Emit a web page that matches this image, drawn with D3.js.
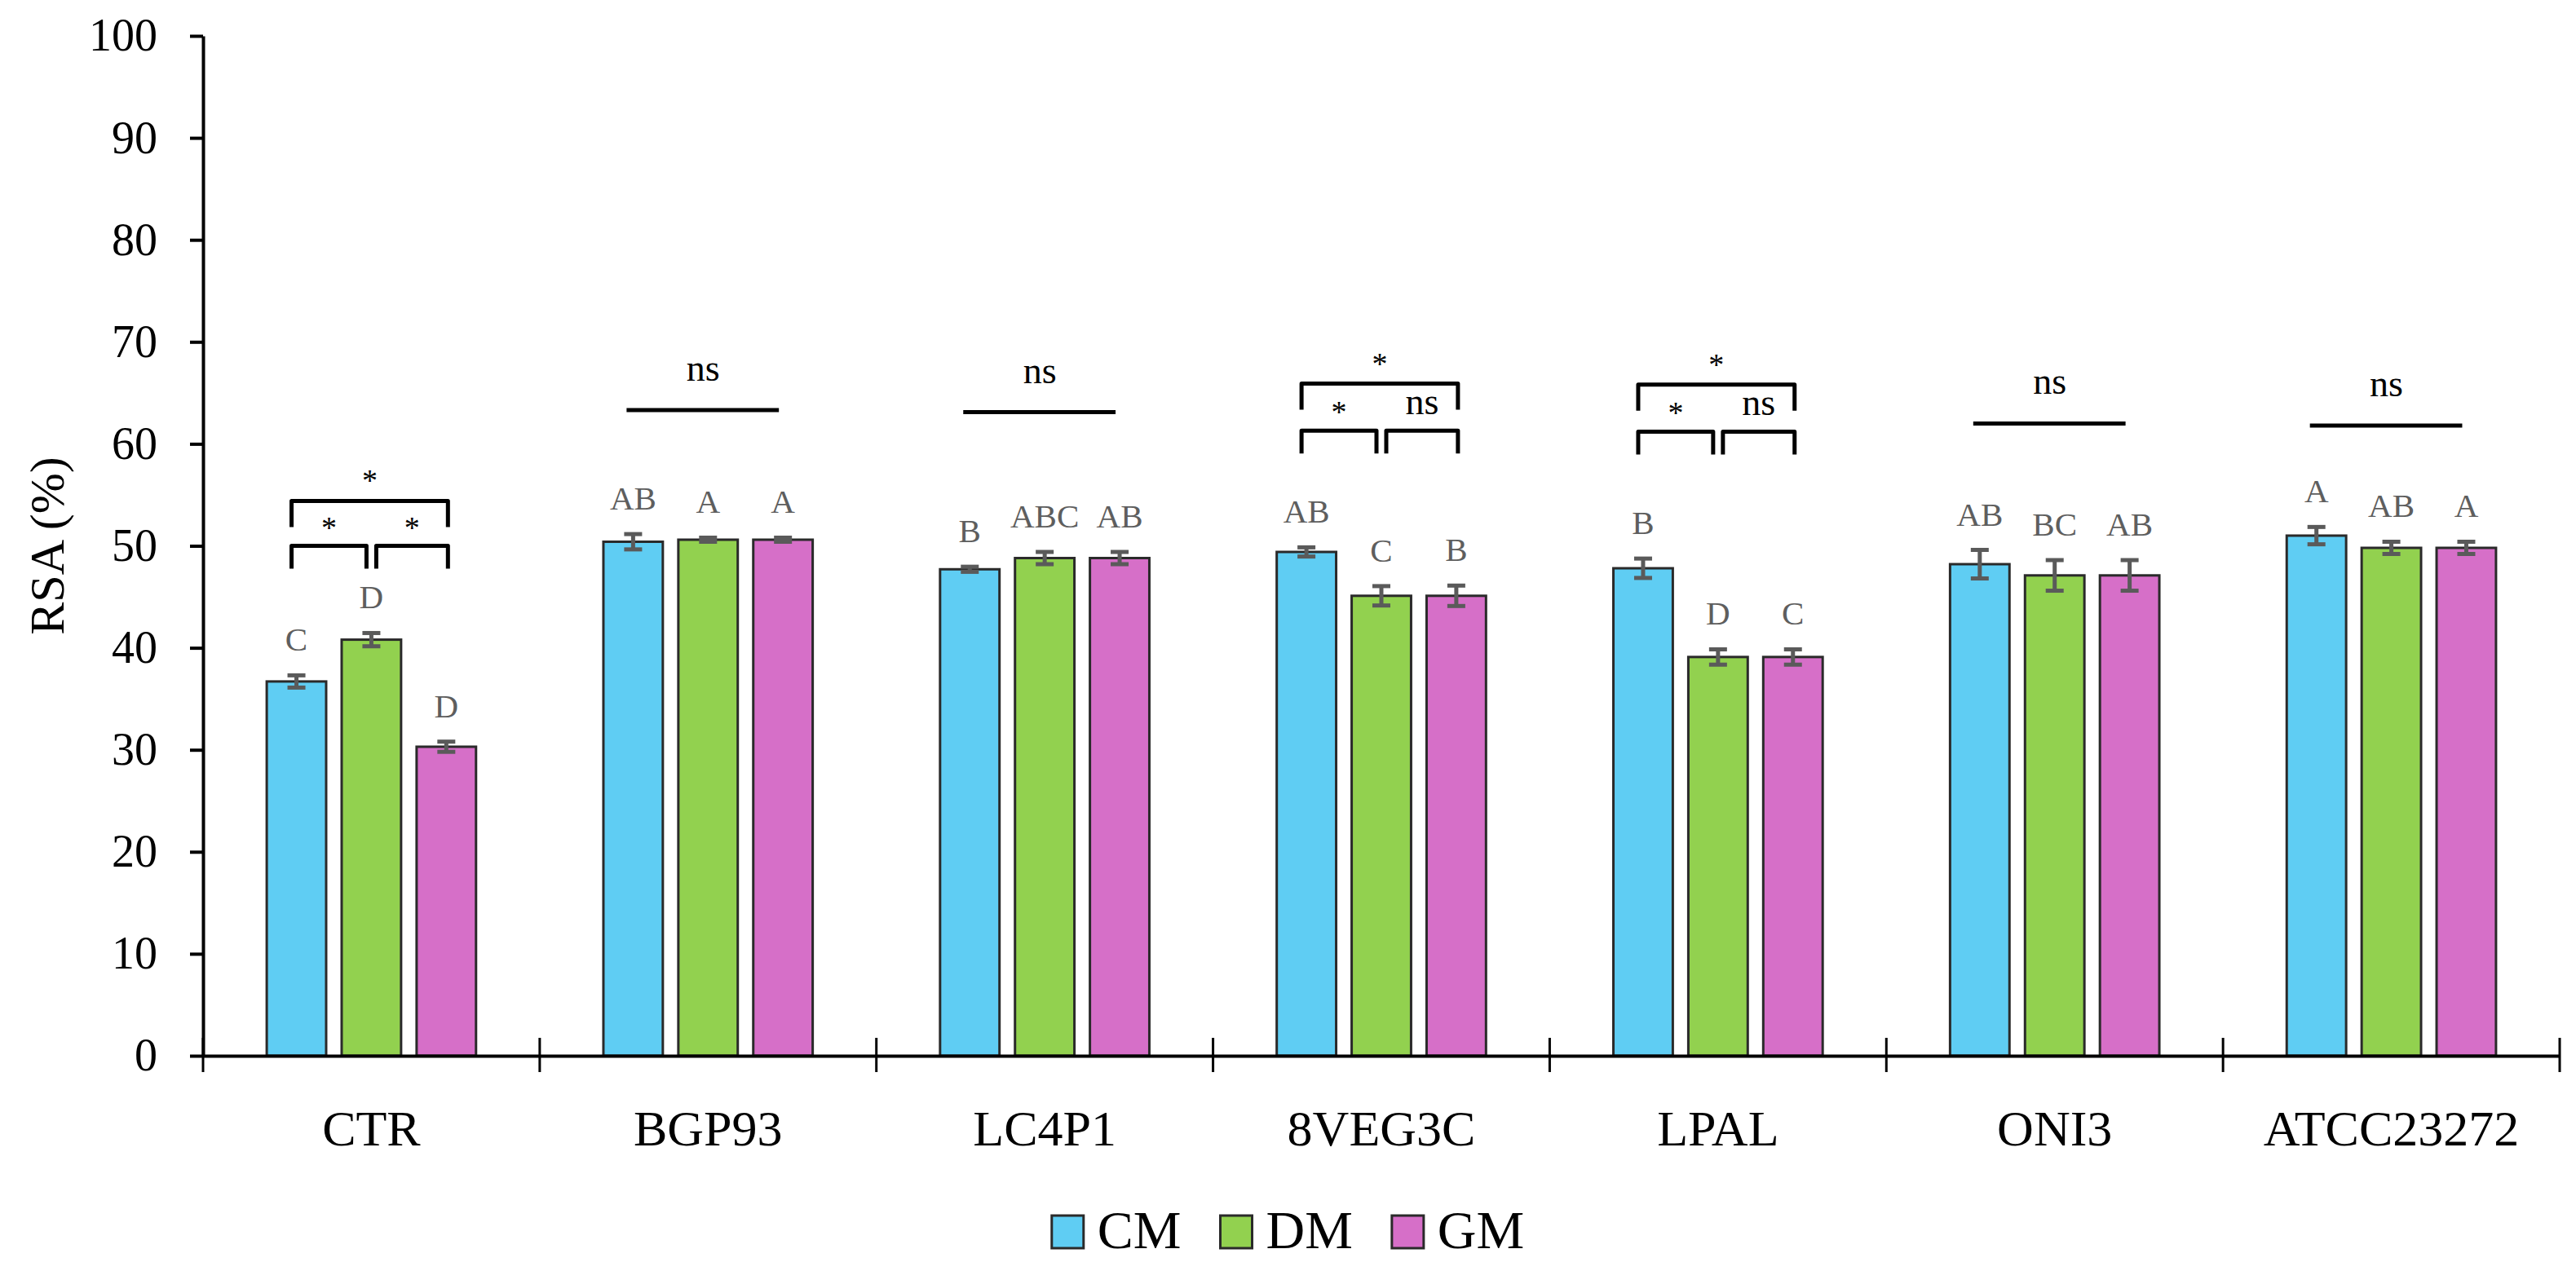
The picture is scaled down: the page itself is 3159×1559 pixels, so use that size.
<!DOCTYPE html>
<html>
<head>
<meta charset="utf-8">
<script src="https://cdn.jsdelivr.net/npm/d3@7"></script>
<style>
  html, body { margin: 0; padding: 0; background: #fff; }
  svg { display: block; }
  text { font-family: "Liberation Serif", "Times New Roman", serif; }
</style>
</head>
<body>
<svg id="chart" width="3159" height="1559"></svg>
<script>
// ---- data ----
const categories = ["CTR", "BGP93", "LC4P1", "8VEG3C", "LPAL", "ONI3", "ATCC23272"];
const series = ["CM", "DM", "GM"];
const seriesColors = ["#5FCDF3", "#92D14F", "#D66FC8"];

const cmValues = [36.7, 50.4, 47.7, 49.4, 47.8, 48.2, 51.0];
const dmValues = [40.8, 50.6, 48.8, 45.1, 39.1, 47.1, 49.8];
const gmValues = [30.3, 50.6, 48.8, 45.1, 39.1, 47.1, 49.8];

const cmErrors = [0.6, 0.75, 0.25, 0.45, 0.95, 1.4, 0.85];
const dmErrors = [0.65, 0.2, 0.6, 0.95, 0.75, 1.5, 0.6];
const gmErrors = [0.5, 0.2, 0.6, 1.0, 0.75, 1.5, 0.6];

const cmLetters = ["C", "AB", "B", "AB", "B", "AB", "A"];
const dmLetters = ["D", "A", "ABC", "C", "D", "BC", "AB"];
const gmLetters = ["D", "A", "AB", "B", "C", "AB", "A"];

// significance annotations per category
const sigKind = ["bracket", "line", "line", "bracket", "bracket", "line", "line"];
const sigLow = [50.0, 63.3, 63.1, 61.3, 61.2, 62.0, 61.8];   // ns line level / lower bracket level
const sigHigh = [54.4, null, null, 65.9, 65.8, null, null];   // upper bracket level
const sigLeft = ["*", null, null, "*", "*", null, null];      // CM vs DM
const sigRight = ["*", null, null, "ns", "ns", null, null];   // DM vs GM
const sigOuter = ["*", "ns", "ns", "*", "*", "ns", "ns"];     // CM vs GM / overall

const yTicks = [0, 10, 20, 30, 40, 50, 60, 70, 80, 90, 100];
const yTitle = "RSA (%)";

// ---- build ----
const valuesBySeries = [cmValues, dmValues, gmValues];
const errorsBySeries = [cmErrors, dmErrors, gmErrors];
const lettersBySeries = [cmLetters, dmLetters, gmLetters];

const rows = [];
categories.forEach((c, i) => {
  series.forEach((s, j) => {
    rows.push({cat: c, ser: s, si: j, v: valuesBySeries[j][i], e: errorsBySeries[j][i], letter: lettersBySeries[j][i]});
  });
});

const svg = d3.select("#chart");
const W = 3159;

const x0 = d3.scaleBand().domain(categories).range([249, 3139]).paddingInner(0).paddingOuter(0);
const x1 = d3.scaleBand().domain(series).range([0, x0.bandwidth()]).paddingInner(0.207).paddingOuter(0.85);
const y = d3.scaleLinear().domain([0, 100]).range([1295, 44]);
const color = d3.scaleOrdinal().domain(series).range(seriesColors);

const cx = d => x0(d.cat) + x1(d.ser) + x1.bandwidth() / 2;

// Y axis
const yAxis = svg.append("g")
  .attr("transform", `translate(${x0.range()[0]},0)`)
  .call(d3.axisLeft(y).tickValues(yTicks).tickSizeInner(16).tickSizeOuter(0).tickPadding(40));
yAxis.select(".domain").attr("stroke", "#000").attr("stroke-width", 4);
yAxis.selectAll(".tick line").attr("stroke", "#000").attr("stroke-width", 4);
yAxis.selectAll(".tick text").attr("font-size", 56).attr("fill", "#000")
  .style("font-family", '"Liberation Serif", serif');

// bars
svg.append("g").selectAll("rect").data(rows).join("rect")
  .attr("x", d => x0(d.cat) + x1(d.ser))
  .attr("y", d => y(d.v))
  .attr("width", x1.bandwidth())
  .attr("height", d => y(0) - y(d.v))
  .attr("fill", d => color(d.ser))
  .attr("stroke", "#2a2a2a")
  .attr("stroke-width", 3);

// X axis (labels) and domain
const xAxis = svg.append("g")
  .attr("transform", `translate(0,${y(0)})`)
  .call(d3.axisBottom(x0).tickSizeInner(0).tickSizeOuter(0).tickPadding(66));
xAxis.select(".domain").attr("stroke", "#000").attr("stroke-width", 4);
xAxis.selectAll(".tick text").attr("font-size", 62).attr("fill", "#000")
  .style("font-family", '"Liberation Serif", serif');

// category separator ticks
const bounds = categories.map(c => x0(c)).concat([x0(categories[categories.length - 1]) + x0.bandwidth()]);
svg.append("g").selectAll("line").data(bounds).join("line")
  .attr("x1", d => d).attr("x2", d => d)
  .attr("y1", y(0) - 22).attr("y2", y(0) + 20)
  .attr("stroke", "#000").attr("stroke-width", 3);

// error bars
const eg = svg.append("g").attr("stroke", "#5a5a5a").attr("stroke-width", 5);
const capW = 11;
eg.selectAll("line.v").data(rows).join("line").attr("class", "v")
  .attr("x1", cx).attr("x2", cx)
  .attr("y1", d => y(d.v + d.e)).attr("y2", d => y(d.v - d.e));
eg.selectAll("line.t").data(rows).join("line").attr("class", "t")
  .attr("x1", d => cx(d) - capW).attr("x2", d => cx(d) + capW)
  .attr("y1", d => y(d.v + d.e)).attr("y2", d => y(d.v + d.e));
eg.selectAll("line.b").data(rows).join("line").attr("class", "b")
  .attr("x1", d => cx(d) - capW).attr("x2", d => cx(d) + capW)
  .attr("y1", d => y(d.v - d.e)).attr("y2", d => y(d.v - d.e));

// letters
svg.append("g").selectAll("text").data(rows).join("text")
  .attr("x", cx)
  .attr("y", d => y(d.v + d.e) - 30)
  .attr("text-anchor", "middle")
  .attr("font-size", 41)
  .attr("fill", "#5e5e5e")
  .text(d => d.letter);

// significance annotations
const sg = svg.append("g");
const starSize = 38, nsSize = 46;
function sigText(x, yBase, label) {
  sg.append("text")
    .attr("x", x).attr("y", label === "*" ? yBase + 3 : yBase)
    .attr("text-anchor", "middle")
    .attr("font-size", label === "*" ? starSize : nsSize)
    .attr("fill", "#000")
    .text(label);
}
function bracket(xa, xb, yTop, leg) {
  sg.append("path")
    .attr("d", `M${xa},${yTop + leg}V${yTop}H${xb}V${yTop + leg}`)
    .attr("fill", "none").attr("stroke", "#000").attr("stroke-width", 5)
    .attr("stroke-linejoin", "round");
}
categories.forEach((c, i) => {
  const cmC = x0(c) + x1("CM") + x1.bandwidth() / 2;
  const dmC = x0(c) + x1("DM") + x1.bandwidth() / 2;
  const gmC = x0(c) + x1("GM") + x1.bandwidth() / 2;
  if (sigKind[i] === "line") {
    const yl = y(sigLow[i]);
    sg.append("line")
      .attr("x1", cmC - 8).attr("x2", gmC - 5)
      .attr("y1", yl).attr("y2", yl)
      .attr("stroke", "#000").attr("stroke-width", 5);
    sigText((cmC + gmC) / 2 - 6, yl - 36, sigOuter[i]);
  } else {
    const yLow = y(sigLow[i]);
    const yHigh = y(sigHigh[i]);
    const la = cmC - 6, lb = dmC - 6, ra = dmC + 6, rb = gmC + 2;
    bracket(la, lb, yLow, 28);
    bracket(ra, rb, yLow, 28);
    bracket(la, rb, yHigh, 32);
    const lowBase = l => (l === "*" ? yLow - 13 : yLow - 20);
    sigText((la + lb) / 2, lowBase(sigLeft[i]), sigLeft[i]);
    sigText((ra + rb) / 2, lowBase(sigRight[i]), sigRight[i]);
    sigText((la + rb) / 2, yHigh - 15, sigOuter[i]);
  }
});

// Y axis title
svg.append("text")
  .attr("transform", `translate(78,${(y(0) + y(100)) / 2}) rotate(-90)`)
  .attr("text-anchor", "middle")
  .attr("font-size", 60)
  .attr("fill", "#000")
  .text(yTitle);

// legend
const lg = svg.append("g");
const legendFs = 66, sw = 39, sh = 40, textGap = 17, itemGap = 48, legendBase = 1531;
const items = lg.selectAll("g").data(series).join("g");
items.append("rect")
  .attr("width", sw).attr("height", sh)
  .attr("y", legendBase - sh)
  .attr("fill", d => color(d))
  .attr("stroke", "#2a2a2a").attr("stroke-width", 3);
items.append("text")
  .attr("x", sw + textGap)
  .attr("y", legendBase)
  .attr("font-size", legendFs)
  .attr("fill", "#000")
  .text(d => d);
let xPos = 0;
const widths = [];
items.each(function () {
  const tw = d3.select(this).select("text").node().getComputedTextLength();
  widths.push(sw + textGap + tw);
});
const total = d3.sum(widths) + itemGap * (widths.length - 1);
let start = W / 2 - total / 2;
items.attr("transform", (d, i) => {
  const t = `translate(${start},0)`;
  start += widths[i] + itemGap;
  return t;
});
</script>
</body>
</html>
